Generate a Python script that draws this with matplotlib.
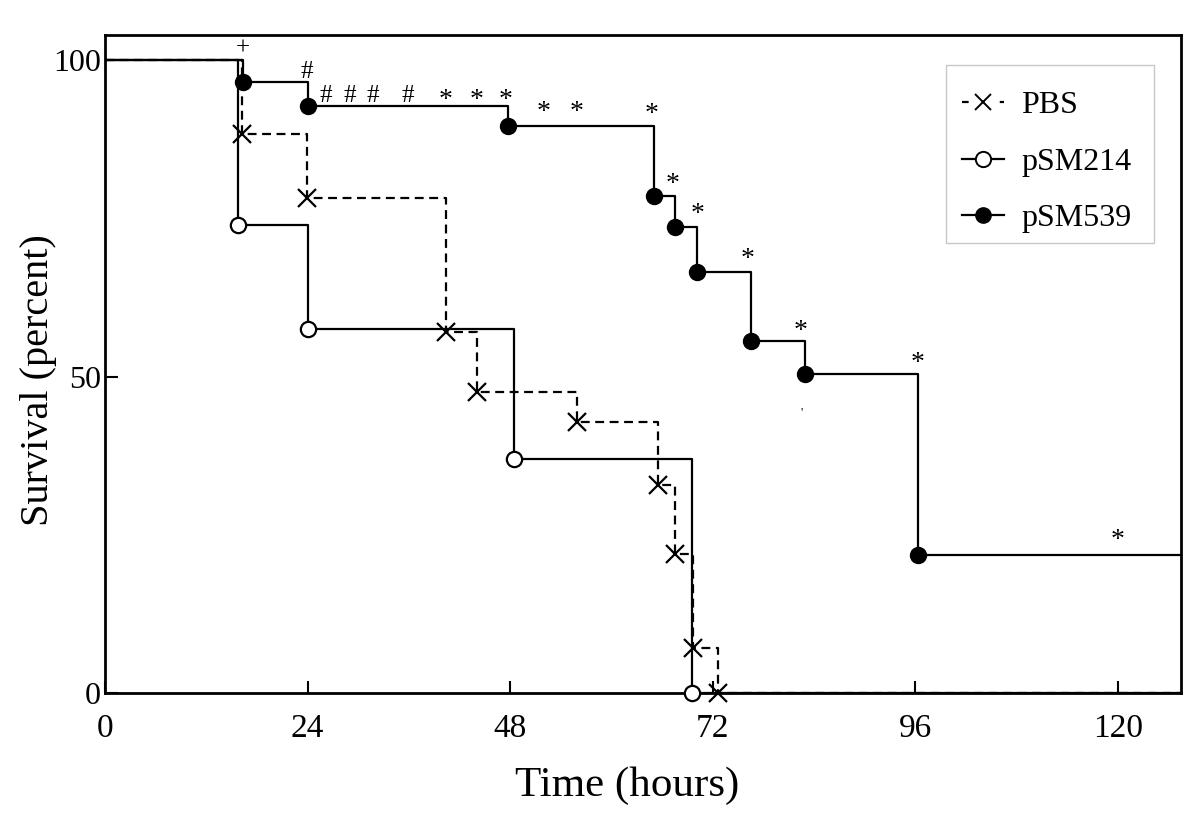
import matplotlib
matplotlib.use("Agg")
import matplotlib.pyplot as plt
from matplotlib.lines import Line2D
from matplotlib.patches import Rectangle

plt.rcParams['font.family'] = ['Liberation Serif', 'DejaVu Serif']

# ---- data (hours, percent survival) ----
pbs_t = [0, 16.2, 23.9, 40.4, 44.1, 55.9, 65.5, 67.6, 69.7, 72.6]
pbs_s = [100, 88.4, 78.2, 57.1, 47.6, 42.9, 32.9, 21.9, 7.1, 0]

p214_t = [0, 15.8, 24.0, 48.5, 69.6]
p214_s = [100, 73.9, 57.6, 37.0, 0]

p539_t = [0, 16.3, 24.0, 47.7, 65.0, 67.6, 70.2, 76.6, 82.9, 96.3]
p539_s = [100, 96.5, 92.7, 89.6, 78.5, 73.6, 66.5, 55.6, 50.4, 21.8]

x_end = 127.5
x_ticks = [0, 24, 48, 72, 96, 120]
y_ticks = [0, 50, 100]

# significance marks: symbol, time, glyph-centre height
ann_sym = ['+', '#', '#', '#', '#', '#', '*', '*', '*', '*', '*',
           '*', '*', '*', '*', '*', '*', '*', "'"]
ann_x = [16.3, 23.9, 26.2, 29.0, 31.7, 35.9, 40.4, 44.0, 47.5, 52.0, 55.9,
         64.8, 67.2, 70.2, 76.1, 82.4, 96.3, 120.0, 82.5]
ann_y = [102.0, 98.4, 94.6, 94.6, 94.6, 94.6, 94.6, 94.6, 94.6, 92.6, 92.6,
         92.3, 81.2, 76.5, 69.4, 58.0, 52.9, 25.0, 44.2]

W, H = 1200, 825
fig = plt.figure(figsize=(12, 8.25), dpi=100)
ax = fig.add_axes([105 / W, 132 / H, 1076 / W, 658 / H])


def ax_frac(px, py):
    """pixel position (from top-left of figure) -> axes fraction"""
    return (px - 105) / 1076, (693 - py) / 658


lw = 1.6
dash = (0, (4, 2.5))

# step curves
ax.step(pbs_t + [x_end], pbs_s + [pbs_s[-1]], where='post', color='black',
        lw=lw, linestyle=dash, zorder=2)
ax.step(p214_t + [x_end], p214_s + [p214_s[-1]], where='post', color='black',
        lw=lw, zorder=2)
ax.step(p539_t + [x_end], p539_s + [p539_s[-1]], where='post', color='black',
        lw=lw, zorder=2)

# event markers
ax.plot(pbs_t[1:], pbs_s[1:], linestyle='none', marker='x', ms=13, mew=1.6,
        color='black', zorder=4, clip_on=False)
ax.plot(p214_t[1:], p214_s[1:], linestyle='none', marker='o', ms=11, mew=1.6,
        mfc='white', mec='black', zorder=4, clip_on=False)
ax.plot(p539_t[1:], p539_s[1:], linestyle='none', marker='o', ms=11.5, mew=1,
        mfc='black', mec='black', zorder=4, clip_on=False)

# annotations
for s, x, y in zip(ann_sym, ann_x, ann_y):
    if s == "'":
        fs, dy = 9, 0.0
    elif s == '*':
        fs, dy = 20, -0.9
    else:
        fs, dy = 18, -0.2
    ax.text(x, y + dy, s, ha='center', va='center', fontsize=fs, zorder=5)

ax.set_xlim(0, x_end)
ax.set_ylim(0, 104)
ax.set_xticks(x_ticks)
ax.set_yticks(y_ticks)
ax.tick_params(direction='in', length=9, width=1.5)
ax.tick_params(axis='x', labelsize=24, pad=15)
ax.tick_params(axis='y', labelsize=23, pad=3)
for sp in ax.spines.values():
    sp.set_linewidth(2.0)

ax.set_xlabel('Time (hours)', fontsize=31)
ax.xaxis.set_label_coords(*ax_frac(627, 766))
ax.set_ylabel('Survival (percent)', fontsize=29)
ax.yaxis.set_label_coords(*ax_frac(57, 380))

# legend box drawn separately
bx0, by0 = ax_frac(946, 243)
bx1, by1 = ax_frac(1154, 65)
ax.add_patch(Rectangle((bx0, by0), bx1 - bx0, by1 - by0, transform=ax.transAxes,
                       facecolor='white', edgecolor='#c8c8c8', lw=1.0, zorder=6))

handles = [
    Line2D([], [], color='black', lw=lw, linestyle=(0, (3, 14)), marker='x', ms=12, mew=1.4),
    Line2D([], [], color='black', lw=lw, marker='o', ms=11, mfc='white', mew=1.4),
    Line2D([], [], color='black', lw=lw, marker='o', ms=11, mfc='black'),
]
leg = ax.legend(handles, ['PBS', 'pSM214', 'pSM539'], loc='upper left',
                bbox_to_anchor=ax_frac(946, 75),
                fontsize=23, frameon=False, handlelength=1.3,
                handletextpad=0.56, labelspacing=0.85, borderpad=0.5,
                borderaxespad=0)
leg.set_zorder(7)

fig.savefig('out.png', dpi=100)
